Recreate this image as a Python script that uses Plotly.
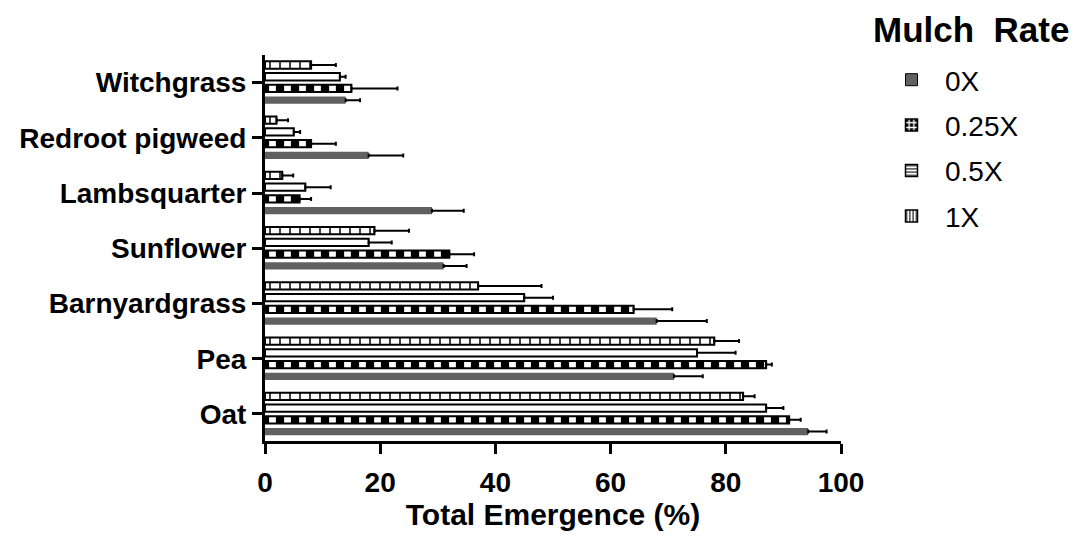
import plotly.graph_objects as go

# ---- data ----
species = ["Oat", "Pea", "Barnyardgrass", "Sunflower", "Lambsquarter",
           "Redroot pigweed", "Witchgrass"]  # bottom -> top
rates = ["0X", "0.25X", "0.5X", "1X"]

val_0x = [94.3, 71, 68, 31, 29, 18, 14]
err_0x = [3.2, 5, 8.7, 4, 5.5, 6, 2.5]
val_025x = [91, 87, 64, 32, 6, 8, 15]
err_025x = [2, 1, 6.7, 4.3, 2, 4.3, 8]
val_05x = [87, 75, 45, 18, 7, 5, 13]
err_05x = [3, 6.7, 5, 4, 4.4, 1.1, 1]
val_1x = [83, 78, 37, 19, 3, 2, 8]
err_1x = [2, 4.3, 11, 6, 1.9, 2, 4.3]

x_ticks = [0, 20, 40, 60, 80, 100]

FONT = "Liberation Sans, Arial, sans-serif"
GRAY = "#616161"

values = [val_0x, val_025x, val_05x, val_1x]
errors = [err_0x, err_025x, err_05x, err_1x]

bar_styles = [
    dict(color=GRAY, line=dict(color=GRAY, width=0)),
    dict(color="black", line=dict(color="black", width=2),
         pattern=dict(shape="|", fgcolor="white", bgcolor="black",
                      size=15, solidity=0.45, fillmode="replace")),
    dict(color="white", line=dict(color="black", width=2)),
    dict(color="white", line=dict(color="black", width=2),
         pattern=dict(shape="|", fgcolor="black", bgcolor="white",
                      size=10, solidity=0.15, fillmode="replace")),
]
legend_styles = [
    dict(color=GRAY, line=dict(color="black", width=1)),
    dict(color="black", line=dict(color="black", width=1.5),
         pattern=dict(shape="+", fgcolor="white", bgcolor="black",
                      size=6, solidity=0.5, fillmode="replace")),
    dict(color="white", line=dict(color="black", width=1.5),
         pattern=dict(shape="-", fgcolor="black", bgcolor="white",
                      size=4, solidity=0.3, fillmode="replace")),
    dict(color="white", line=dict(color="black", width=1.5),
         pattern=dict(shape="|", fgcolor="black", bgcolor="white",
                      size=4, solidity=0.3, fillmode="replace")),
]

fig = go.Figure()
for name, v, e, st in zip(rates, values, errors, bar_styles):
    fig.add_trace(go.Bar(
        y=species, x=v, orientation="h", name=name, showlegend=False,
        marker=st,
        error_x=dict(type="data", array=e, arrayminus=[0] * len(e),
                     symmetric=False, color="black", thickness=2, width=2),
    ))

# legend-only entries (no marks) on an overlaying axis
for name, st in zip(rates, legend_styles):
    fig.add_trace(go.Bar(
        y=[None], x=[None], orientation="h", name=name, legendgroup=name,
        marker=st, xaxis="x", yaxis="y2", showlegend=True,
    ))

W, H = 1083, 557
OFF = 8  # page body margin offset
# plot area in page pixels
PL, PR, PT, PB = 265, 841, 55, 441
L, R, T, B = PL - OFF, W - (PR - OFF), PT - OFF, H - (PB - OFF)
pw, ph = W - L - R, H - T - B

def px2paper_x(px):
    return (px - OFF - L) / pw

def px2paper_y(py):
    return (H - B - (py - OFF)) / ph

fig.update_layout(
    width=W, height=H,
    margin=dict(l=L, r=R, t=T, b=B, autoexpand=False),
    paper_bgcolor="white", plot_bgcolor="white",
    barmode="group", bargap=0.15, bargroupgap=0.38,
    font=dict(family=FONT, color="black"),
    xaxis=dict(
        range=[0, 100], tickvals=x_ticks, ticktext=[str(t) for t in x_ticks],
        showgrid=False, zeroline=False, showline=True, linecolor="black",
        linewidth=3, ticks="outside", ticklen=10, tickwidth=3,
        tickcolor="black", ticklabelstandoff=4, automargin=False,
        tickfont=dict(size=28, weight="bold", family=FONT),
        title=dict(text="Total Emergence (%)", standoff=6,
                   font=dict(size=30, weight="bold", family=FONT)),
    ),
    yaxis=dict(
        categoryorder="array", categoryarray=species, range=[-0.49, 6.5],
        showgrid=False, zeroline=False, showline=True, linecolor="black",
        linewidth=3, ticks="outside", ticklen=10, tickwidth=3,
        tickcolor="black", ticklabelstandoff=0, automargin=False,
        tickfont=dict(size=28, weight="bold", family=FONT),
    ),
    yaxis2=dict(overlaying="y", visible=False, range=[0, 1]),
    legend=dict(
        x=px2paper_x(878), y=px2paper_y(55), xanchor="left", yanchor="top",
        font=dict(size=28, family=FONT), itemwidth=57,
        tracegroupgap=6, bgcolor="rgba(0,0,0,0)",
    ),
    annotations=[dict(
        text="<b>Mulch  Rate</b>", xref="paper", yref="paper",
        x=px2paper_x(871), y=px2paper_y(30), xanchor="left",
        yanchor="middle", showarrow=False,
        font=dict(size=35, family=FONT, color="black"),
    )],
)

fig.write_html("out.html")
